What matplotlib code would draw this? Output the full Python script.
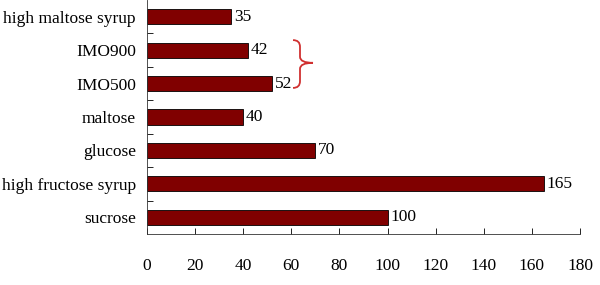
import matplotlib
matplotlib.use("Agg")
import matplotlib.pyplot as plt
from matplotlib.path import Path
from matplotlib.patches import PathPatch
import numpy as np

categories = ["sucrose", "high fructose syrup", "glucose", "maltose",
              "IMO500", "IMO900", "high maltose syrup"]
values = [100, 165, 70, 40, 52, 42, 35]
xticks = [0, 20, 40, 60, 80, 100, 120, 140, 160, 180]

plt.rcParams['font.family'] = ['Liberation Serif', 'DejaVu Serif']

fig = plt.figure(figsize=(6, 2.85), dpi=100)
ax = fig.add_axes([0.245, 0.179, 0.7217, 0.821])

y = np.arange(len(categories))
ax.barh(y, values, height=0.45, color='#800000', edgecolor='black', linewidth=0.6)

# value labels
for yi, v in zip(y, values):
    ax.annotate(str(v), (v, yi), xytext=(2, 0), textcoords='offset points',
                va='center', ha='left', fontsize=12.5)

ax.set_xlim(0, 180)
ax.set_ylim(-0.5, len(categories) - 0.5)
ax.set_xticks(xticks)
ax.set_yticks(y)
ax.set_yticklabels(categories)
ax.set_yticks(np.arange(0.5, len(categories) - 0.5, 1), minor=True)

ax.tick_params(axis='y', which='major', length=0, pad=8, labelsize=12.5)
ax.tick_params(axis='y', which='minor', direction='in', length=4, width=0.6)
ax.tick_params(axis='x', direction='in', length=4, width=0.6, pad=17, labelsize=12.5)

for s in ['top', 'right']:
    ax.spines[s].set_visible(False)
for s in ['left', 'bottom']:
    ax.spines[s].set_linewidth(0.6)
    ax.spines[s].set_color('#333333')

# red brace grouping the two IMO bars
verts = [(60.7, 5.30), (63.6, 5.30), (63.6, 5.10), (63.6, 4.80),
         (63.6, 4.62), (69.0, 4.62), (63.6, 4.62), (63.6, 4.44),
         (63.6, 4.07), (63.6, 3.87), (60.7, 3.87)]
codes = [Path.MOVETO, Path.CURVE3, Path.CURVE3, Path.LINETO,
         Path.CURVE3, Path.CURVE3, Path.CURVE3, Path.CURVE3,
         Path.LINETO, Path.CURVE3, Path.CURVE3]
ax.add_patch(PathPatch(Path(verts, codes), facecolor='none',
                       edgecolor='#d03030', linewidth=1.3, clip_on=False))

fig.savefig("out.png", dpi=100)
